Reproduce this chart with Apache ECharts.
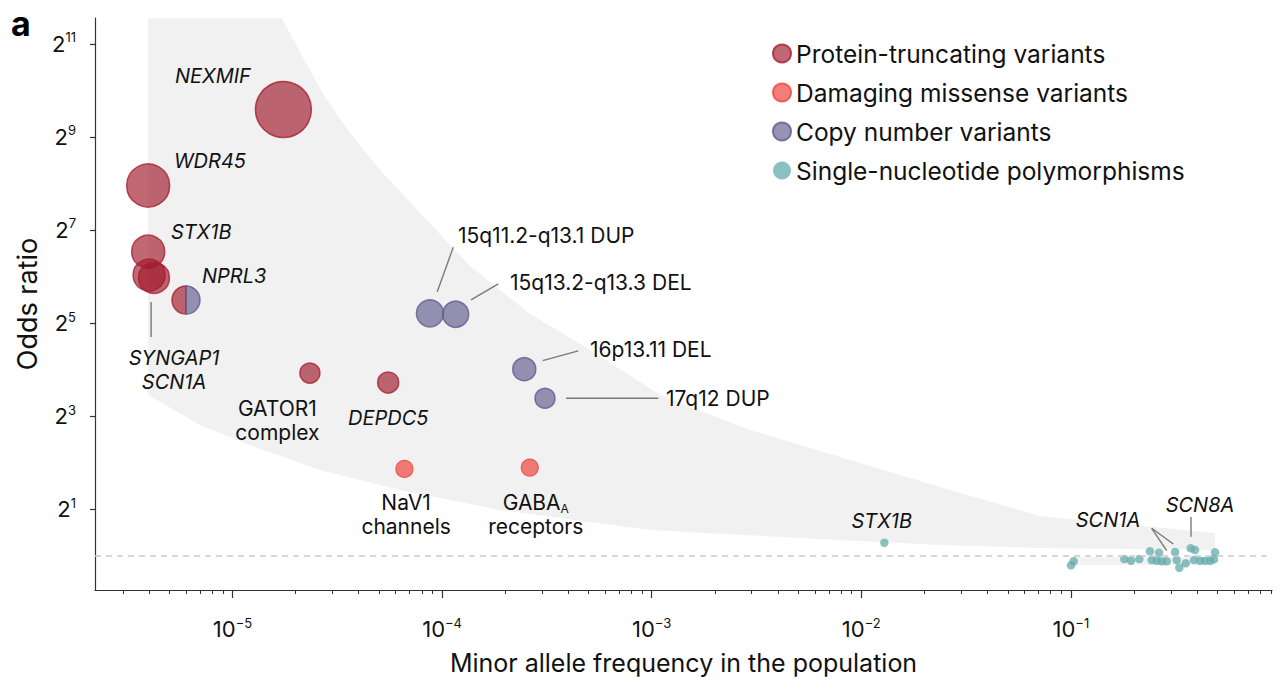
<!DOCTYPE html>
<html><head><meta charset="utf-8">
<script src="https://cdn.jsdelivr.net/npm/echarts@6/dist/echarts.min.js"></script>
<style>html,body{margin:0;padding:0;background:#fff}#c{width:1284px;height:684px}</style>
</head><body><div id="c"></div>
<script>
const FONT = 'Inter, "Noto Sans", sans-serif';

// ---------------- data (minor allele frequency, odds ratio) ----------------
const ptvNames = ['NEXMIF', 'WDR45', 'STX1B', 'SYNGAP1', 'SCN1A', 'NPRL3', 'GATOR1 complex', 'DEPDC5'];
const ptvMAF   = [1.75e-5, 3.96e-6, 3.96e-6, 4.00e-6, 4.22e-6, 6.00e-6, 2.34e-5, 5.53e-5];
const ptvOR    = [770, 248, 92.7, 65.4, 62.7, 45.1, 15.2, 13.2];
const ptvWeight = [56, 43, 33, 32, 31, 28, 20, 21];

const misNames = ['NaV1 channels', 'GABAA receptors'];
const misMAF   = [6.61e-5, 2.62e-4];
const misOR    = [3.65, 3.72];
const misWeight = [17, 17];

const cnvNames = ['15q11.2-q13.1 DUP', '15q13.2-q13.3 DEL', '16p13.11 DEL', '17q12 DUP', 'NPRL3'];
const cnvMAF   = [8.75e-5, 1.161e-4, 2.466e-4, 3.097e-4, 6.00e-6];
const cnvOR    = [37.0, 36.5, 16.1, 10.45, 45.1];
const cnvWeight = [27, 26, 23, 20, 28];

const snpMAF = [0.1001, 0.1031, 0.1798, 0.1935, 0.2120, 0.2384, 0.2429, 0.2632, 0.2566, 0.2711, 0.2864, 0.3138,
                0.3197, 0.3290, 0.3530, 0.3729, 0.3909, 0.3866, 0.4130, 0.4363, 0.4609, 0.4870, 0.4816, 0.01288];
const snpOR  = [0.869, 0.922, 0.954, 0.930, 0.954, 1.070, 0.940, 1.048, 0.930, 0.922, 0.922, 1.059,
                0.940, 0.838, 0.895, 1.119, 1.091, 0.940, 0.930, 0.930, 0.930, 1.054, 0.950, 1.216];

// shaded region (upper edge left->right, lower edge left->right)
const bandUpperMAF = [3.96e-6, 1.72e-5, 2.20e-5, 2.76e-5, 3.64e-5, 5.06e-5, 7.85e-5, 1.36e-4, 2.63e-4, 5.08e-4, 1.10e-3, 2.94e-3, 8.83e-3, 2.65e-2, 7.12e-2, 0.487];
const bandUpperOR  = [3000, 3000, 1609, 927.6, 542.7, 312.8, 164.9, 74.9, 36.6, 21.4, 10.97, 6.52, 4.17, 2.67, 1.81, 1.405];
const bandLowerMAF = [3.96e-6, 7.00e-6, 1.21e-5, 2.61e-5, 6.30e-5, 1.89e-4, 9.82e-4, 6.35e-3, 2.38e-2, 7.12e-2, 0.487];
const bandLowerOR  = [10.97, 7.02, 5.21, 3.59, 2.67, 1.979, 1.469, 1.285, 1.175, 1.124, 1.091];
// faint strip behind the common variants
const snpBandMAF = [0.103, 0.487];
const snpBandOR  = [0.983, 0.872];

const xTickExp = [-5, -4, -3, -2, -1];
const yTickExp = [1, 3, 5, 7, 9, 11];
const legendNames = ['Protein-truncating variants', 'Damaging missense variants', 'Copy number variants', 'Single-nucleotide polymorphisms'];

// ---------------- helpers ----------------
const X_MIN = -5.656, X_MAX = -0.0406;   // log10 MAF
const Y_MIN = -0.7336, Y_MAX = 11.554;   // log2 OR
const lx = v => Math.log10(v);
const ly = v => Math.log2(v);

const xMinor = [];
for (let k = -6; k <= -1; k++) for (let m = 2; m <= 9; m++) xMinor.push(Math.log10(m * Math.pow(10, k)));

const LEFT_HALF = 'path://M50,0 A50,50 0 0 0 50,100 Z';
const RIGHT_HALF = 'path://M0,0 A50,50 0 0 1 0,100 Z';

const ptvData = ptvMAF.map((m, i) => {
  const d = { name: ptvNames[i], value: [lx(m), ly(ptvOR[i])], symbolSize: ptvWeight[i] };
  if (ptvNames[i] === 'NPRL3') { d.symbol = LEFT_HALF; d.symbolKeepAspect = true; d.symbolOffset = [-ptvWeight[i] / 4, 0]; }
  return d;
});
const misData = misMAF.map((m, i) => ({ name: misNames[i], value: [lx(m), ly(misOR[i])], symbolSize: misWeight[i] }));
const cnvData = cnvMAF.map((m, i) => {
  const d = { name: cnvNames[i], value: [lx(m), ly(cnvOR[i])], symbolSize: cnvWeight[i] };
  if (cnvNames[i] === 'NPRL3') { d.symbol = RIGHT_HALF; d.symbolKeepAspect = true; d.symbolOffset = [cnvWeight[i] / 4, 0]; }
  return d;
});
const snpData = snpMAF.map((m, i) => [lx(m), ly(snpOR[i])]);

const bandData = bandUpperMAF.map((m, i) => [lx(m), ly(bandUpperOR[i])])
  .concat(bandLowerMAF.map((m, i) => [lx(m), ly(bandLowerOR[i])]).reverse());
const snpBandData = [[lx(snpBandMAF[0]), ly(snpBandOR[0])], [lx(snpBandMAF[1]), ly(snpBandOR[1])]];

// annotation layout (pixel offsets from the anchored point)
const annotations = [
  { text: 'NEXMIF', src: [ptvMAF, ptvOR, 0], dx: -108.5, dy: -33.5, align: 'left', italic: true },
  { text: 'WDR45', src: [ptvMAF, ptvOR, 1], dx: 25.7, dy: -24.7, align: 'left', italic: true },
  { text: 'STX1B', src: [ptvMAF, ptvOR, 2], dx: 22.7, dy: -19.7, align: 'left', italic: true },
  { text: 'SYNGAP1\nSCN1A', src: [ptvMAF, ptvOR, 3], dx: 25, dy: 94.5, align: 'center', italic: true, lines: [[2, 27, 2, 62]] },
  { text: 'NPRL3', src: [ptvMAF, ptvOR, 5], dx: 16, dy: -24, align: 'left', italic: true },
  { text: 'GATOR1\ncomplex', src: [ptvMAF, ptvOR, 6], dx: -32.5, dy: 47.7, align: 'center' },
  { text: 'DEPDC5', src: [ptvMAF, ptvOR, 7], dx: 0, dy: 35.6, align: 'center', italic: true },
  { text: 'NaV1\nchannels', src: [misMAF, misOR, 0], dx: 1.7, dy: 45.7, align: 'center' },
  { text: 'GABA{sub|A}\nreceptors', src: [misMAF, misOR, 1], dx: 6, dy: 47, align: 'center' },
  { text: '15q11.2-q13.1 DUP', src: [cnvMAF, cnvOR, 0], dx: 28, dy: -78.3, align: 'left', lines: [[7.3, -21.6, 23.3, -66]] },
  { text: '15q13.2-q13.3 DEL', src: [cnvMAF, cnvOR, 1], dx: 54.3, dy: -31.3, align: 'left', lines: [[15.3, -14.3, 42.6, -30.3]] },
  { text: '16p13.11 DEL', src: [cnvMAF, cnvOR, 2], dx: 65.7, dy: -19.3, align: 'left', lines: [[18.4, -8.6, 54, -18.3]] },
  { text: '17q12 DUP', src: [cnvMAF, cnvOR, 3], dx: 121, dy: 0, align: 'left', lines: [[21, 0, 113.3, 0]] },
  { text: 'STX1B', src: [snpMAF, snpOR, 23], dx: -2.6, dy: -22, align: 'center', italic: true },
  { text: 'SCN1A', src: [snpMAF, snpOR, 11], dx: -67, dy: -32, align: 'center', italic: true, lines: [[-23.3, -23.7, -1.7, -8], [-23.3, -23.7, -8.3, -1.3]] },
  { text: 'SCN8A', src: [snpMAF, snpOR, 15], dx: 9.3, dy: -43.3, align: 'center', italic: true, lines: [[0.3, -31.3, 0.3, -11.6]] }
];
const annData = annotations.map(a => [lx(a.src[0][a.src[2]]), ly(a.src[1][a.src[2]])]);

const supRich = {
  b: { fontSize: 22, fontFamily: FONT, color: '#111', lineHeight: 26 },
  s: { fontSize: 13, fontFamily: FONT, color: '#111', lineHeight: 14, verticalAlign: 'top' }
};

const chart = echarts.init(document.getElementById('c'), null, { renderer: 'svg' });
chart.setOption({
  animation: false,
  backgroundColor: '#fff',
  textStyle: { fontFamily: FONT },
  grid: { left: 95, right: 12, top: 18, bottom: 94, containLabel: false },
  legend: {
    data: legendNames, orient: 'vertical', left: 767, top: 36,
    itemWidth: 18, itemHeight: 18, itemGap: 14, icon: 'circle', selectedMode: false,
    textStyle: { fontSize: 24.5, color: '#111', fontFamily: FONT }
  },
  graphic: [{ type: 'text', left: 11, top: 6, style: { text: 'a', font: 'bold 34px ' + FONT, fill: '#000' } }],
  xAxis: [{
    type: 'value', min: X_MIN, max: X_MAX,
    axisLine: { show: true, onZero: false, lineStyle: { color: '#333', width: 1.2 } },
    axisTick: { show: true, customValues: xTickExp, length: 8, lineStyle: { color: '#333', width: 1.2 } },
    axisLabel: { customValues: xTickExp, margin: 26, formatter: v => '{b|10}{s|\u2212' + Math.abs(v) + '}', rich: supRich },
    splitLine: { show: false },
    name: 'Minor allele frequency in the population', nameLocation: 'middle', nameGap: 60,
    nameTextStyle: { fontSize: 25, color: '#111', fontFamily: FONT }
  }, {
    type: 'value', min: X_MIN, max: X_MAX, position: 'bottom',
    axisLine: { show: false, onZero: false },
    axisTick: { show: true, customValues: xMinor, length: 4, lineStyle: { color: '#333', width: 1 } },
    axisLabel: { show: false }, splitLine: { show: false }
  }],
  yAxis: [{
    type: 'value', min: Y_MIN, max: Y_MAX,
    axisLine: { show: true, onZero: false, lineStyle: { color: '#333', width: 1.2 } },
    axisTick: { show: true, customValues: yTickExp, length: 5, lineStyle: { color: '#333', width: 1.2 } },
    axisLabel: { customValues: yTickExp, margin: 19, formatter: v => '{b|2}{s|' + v + '}', rich: supRich },
    splitLine: { show: false },
    name: 'Odds ratio', nameLocation: 'middle', nameGap: 53, nameRotate: 90,
    nameTextStyle: { fontSize: 27, color: '#111', fontFamily: FONT }
  }],
  series: [
    {
      type: 'custom', name: 'band', silent: true, clip: true, z: 1, data: bandData,
      renderItem: (params, api) => {
        if (params.dataIndex !== 0) return null;
        const pts = bandData.map(p => api.coord(p));
        return { type: 'polygon', shape: { points: pts }, style: { fill: '#f1f1f1' } };
      }
    },
    {
      type: 'custom', name: 'snpBand', silent: true, clip: true, z: 1, data: snpBandData,
      renderItem: (params, api) => {
        if (params.dataIndex !== 0) return null;
        const a = api.coord(snpBandData[0]), b = api.coord(snpBandData[1]);
        return { type: 'rect', shape: { x: a[0], y: a[1], width: b[0] - a[0], height: b[1] - a[1] }, style: { fill: '#f3f3f3' } };
      }
    },
    {
      type: 'scatter', name: legendNames[3], z: 3, silent: true, symbolSize: 8.5, data: snpData,
      itemStyle: { color: 'rgba(98,170,170,0.92)', borderWidth: 0 },
      markLine: {
        silent: true, symbol: ['none', 'none'], label: { show: false },
        lineStyle: { type: [6, 5], color: '#c9c9c9', width: 1.5 },
        data: [{ yAxis: 0 }]
      }
    },
    {
      type: 'scatter', name: legendNames[0], z: 4, silent: true, data: ptvData,
      itemStyle: { color: 'rgba(160,25,45,0.82)', borderColor: '#a81f33', borderWidth: 1.5 }
    },
    {
      type: 'scatter', name: legendNames[1], z: 4, silent: true, data: misData,
      itemStyle: { color: 'rgba(238,66,58,0.86)', borderColor: '#e8473f', borderWidth: 1.2 }
    },
    {
      type: 'scatter', name: legendNames[2], z: 4, silent: true, data: cnvData,
      itemStyle: { color: 'rgba(98,92,142,0.82)', borderColor: '#5f5a8c', borderWidth: 1.5 }
    },
    {
      type: 'custom', name: 'annotations', silent: true, z: 6, data: annData,
      renderItem: (params, api) => {
        const a = annotations[params.dataIndex];
        const p = api.coord([api.value(0), api.value(1)]);
        const children = (a.lines || []).map(l => ({
          type: 'line', shape: { x1: p[0] + l[0], y1: p[1] + l[1], x2: p[0] + l[2], y2: p[1] + l[3] },
          style: { stroke: '#7a7a7a', lineWidth: 1.4 }
        }));
        children.push({
          type: 'text', x: p[0] + a.dx, y: p[1] + a.dy,
          style: {
            text: a.text, fill: '#111', fontSize: a.italic ? 20 : 21, fontFamily: FONT,
            fontStyle: a.italic ? 'italic' : 'normal', align: a.align, verticalAlign: 'middle', lineHeight: 24,
            rich: { sub: { fontSize: 12, fontFamily: FONT, fill: '#111', lineHeight: 24, verticalAlign: 'bottom' } }
          }
        });
        return { type: 'group', children };
      }
    }
  ]
});
</script></body></html>
